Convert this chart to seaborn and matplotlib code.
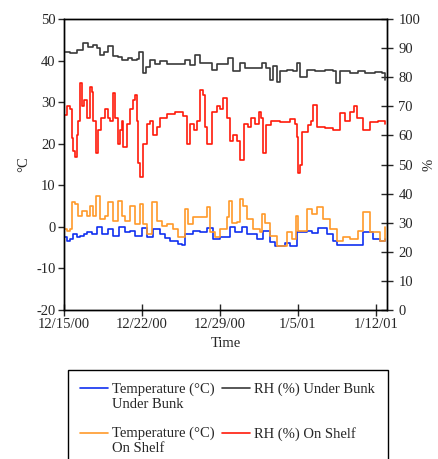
"""Temperature and relative humidity under the bunk and on the shelf, Dec 2000 - Jan 2001."""

import matplotlib
matplotlib.use("Agg")
import matplotlib.pyplot as plt
import pandas as pd
import seaborn as sns

START = pd.Timestamp("2000-12-15")

# days since 12/15/00
temp_bunk_days = [0, 0.27, 0.54, 0.81, 1.17, 1.44, 1.80, 2.06, 2.51, 2.96, 3.41, 3.95, 4.40, 4.94,
                  5.48, 5.92, 6.37, 7.00, 7.45, 7.99, 8.62, 9.07, 9.52, 10.23, 10.59, 10.86, 11.58,
                  12.21, 12.84, 13.38, 14.00, 14.27, 14.90, 15.35, 15.98, 16.43, 16.88, 17.33,
                  17.86, 18.49, 18.94, 19.57, 19.84, 20.29, 20.74, 20.92, 21.81, 22.26, 22.80,
                  23.61, 24.15, 24.51, 25.94, 26.84, 27.74, 28.37, 28.82]
temp_bunk = [-2.5, -3.3, -3.0, -1.7, -2.4, -2.2, -1.6, -1.2, -1.8, 0.0, -1.7, -0.5, -2.2, 0.0,
             -1.2, -0.9, -2.2, -0.3, -2.5, -0.5, -1.8, -2.6, -3.3, -4.1, -4.4, -1.8, -0.9,
             -1.2, -0.3, -2.9, -2.5, -2.5, 0.0, -1.2, 0.0, -1.7, -1.8, -2.9,
             -0.9, -3.6, -4.6, -4.6, -3.8, -4.6, -4.6, -1.2, -0.9, -1.4, -0.3,
             -1.7, -3.3, -4.4, -4.4, -1.2, -2.9, -3.3, -2.9]

temp_shelf_days = [0, 0.27, 0.54, 0.72, 0.99, 1.26, 1.62, 2.06, 2.33, 2.60, 2.87, 3.23, 3.68, 3.95,
                   4.40, 4.85, 5.21, 5.48, 5.92, 6.37, 6.82, 7.09, 7.45, 7.90, 8.35, 8.80, 9.25,
                   9.78, 10.23, 10.86, 11.13, 11.58, 12.66, 12.84, 13.11, 13.55, 14.00, 14.63,
                   14.81, 15.08, 15.53, 15.80, 16.07, 16.43, 16.97, 17.59, 17.77, 18.04, 18.49,
                   19.12, 19.57, 20.02, 20.47, 20.83, 21.01, 21.81, 22.26, 22.71, 23.25, 23.88,
                   24.51, 25.04, 25.67, 26.39, 26.84, 27.47, 28.37, 28.82]
temp_shelf = [-0.5, -1.0, -0.5, 6.0, 5.5, 2.6, 3.8, 2.6, 5.0, 2.6, 7.5, 1.9, 2.6, 6.0,
              1.4, 6.3, 2.6, 1.4, 5.0, 0.7, 5.5, 0.7, -1.7, 6.0, 1.4, 0.2, 0.7,
              -0.5, -2.5, 4.3, 0.7, 2.4, 2.4, 4.8, -1.2, -2.5, -0.5, 2.4,
              6.3, 1.0, 1.2, 6.7, 5.0, 2.0, -0.5, -1.2, 3.1, 1.0, -2.2,
              -4.5, -4.5, -1.2, -2.9, 2.6, -1.0, 4.3, 3.0, 4.8, 2.0, -0.5,
              -3.3, -2.5, -2.9, -1.0, 3.6, -1.2, -3.3, 0.0]

rh_bunk_days = [0, 0.54, 1.17, 1.71, 2.15, 2.60, 2.96, 3.23, 3.59, 3.95, 4.40, 4.85, 5.21, 5.75,
                6.10, 6.55, 6.73, 7.09, 7.36, 7.72, 8.17, 8.62, 9.25, 10.68, 10.86, 11.31, 11.76,
                12.21, 12.84, 13.29, 13.73, 14.18, 14.72, 15.17, 15.80, 16.25, 17.15, 17.77,
                18.13, 18.49, 18.76, 19.12, 19.39, 20.02, 20.56, 20.92, 21.19, 21.81, 22.53,
                23.43, 24.15, 24.42, 24.78, 25.67, 26.39, 27.02, 27.92, 28.55, 28.82]
rh_bunk = [88.5, 88.2, 89.3, 91.7, 90.5, 91.0, 90.0, 87.6, 88.6, 90.7, 87.3, 86.8, 86.0, 86.5,
           85.8, 86.3, 88.6, 81.4, 83.5, 85.8, 84.5, 85.5, 84.5, 84.5, 86.0, 84.2, 87.6,
           85.0, 85.0, 82.5, 84.5, 84.5, 86.6, 82.0, 85.0, 83.2, 83.2, 85.0,
           83.0, 79.0, 84.0, 78.5, 82.0, 82.5, 82.0, 85.0, 80.0, 82.5, 82.0,
           82.5, 82.0, 78.0, 82.0, 81.5, 82.3, 81.5, 81.8, 81.5, 79.0]

rh_shelf_days = [0, 0.27, 0.54, 0.72, 0.81, 0.99, 1.17, 1.26, 1.44, 1.62, 1.80, 2.06, 2.33, 2.51,
                 2.60, 2.87, 3.05, 3.32, 3.68, 3.95, 4.13, 4.40, 4.58, 4.85, 5.03, 5.21, 5.30,
                 5.66, 5.92, 6.19, 6.37, 6.55, 6.64, 6.82, 7.09, 7.45, 7.72, 7.99, 8.35, 8.62,
                 9.25, 9.96, 10.68, 11.04, 11.31, 11.67, 11.94, 12.21, 12.48, 12.66, 12.84,
                 13.29, 13.73, 14.00, 14.27, 14.63, 14.90, 15.17, 15.53, 15.80, 16.16, 16.52,
                 16.79, 17.15, 17.50, 17.68, 17.86, 18.13, 18.58, 19.39, 20.29, 20.74, 20.92,
                 21.01, 21.19, 21.37, 21.90, 22.17, 22.35, 22.71, 23.43, 24.15, 24.78, 25.22,
                 25.67, 26.03, 26.30, 26.84, 27.47, 28.19, 28.82]
rh_shelf = [67.0, 70.0, 69.0, 59.0, 54.5, 52.6, 60.0, 65.0, 78.0, 70.0, 72.0, 66.0, 76.6, 75.0,
            65.0, 54.0, 62.0, 66.0, 69.0, 66.0, 65.0, 74.5, 66.0, 57.0, 62.0, 65.0, 56.0,
            64.0, 69.0, 72.0, 74.0, 65.0, 50.5, 45.7, 57.0, 64.0, 65.0, 60.0, 63.0, 66.0,
            67.5, 68.0, 66.5, 57.0, 64.0, 62.0, 65.0, 75.5, 74.0, 63.0, 57.0,
            68.0, 70.0, 69.0, 73.0, 66.0, 58.0, 60.0, 58.0, 51.5, 64.0, 63.0,
            66.0, 64.0, 68.0, 66.0, 54.0, 63.5, 65.0, 64.5, 65.5, 64.0, 59.5,
            47.0, 50.0, 61.0, 63.5, 65.0, 70.4, 63.0, 62.5, 62.0, 67.7, 65.0,
            68.0, 70.0, 66.0, 62.0, 64.5, 65.0, 64.0]

tick_dates = ["2000-12-15", "2000-12-22", "2000-12-29", "2001-01-05", "2001-01-12"]
tick_labels = ["12/15/00", "12/22/00", "12/29/00", "1/5/01", "1/12/01"]


def to_time(days):
    return START + pd.to_timedelta(days, unit="D")


sns.set_style("ticks")
plt.rcParams["font.family"] = ["Liberation Serif", "DejaVu Serif"]
plt.rcParams["font.size"] = 10.5
plt.rcParams["axes.unicode_minus"] = False

fig = plt.figure(figsize=(4.38, 4.59), dpi=100)
ax = fig.add_axes([0.146, 0.3246, 0.738, 0.634])
ax2 = ax.twinx()

lw = 1.2
sns.lineplot(x=to_time(temp_bunk_days), y=temp_bunk, ax=ax, color="#1030f0", lw=lw,
             drawstyle="steps-post", label="Temperature (°C)\nUnder Bunk", legend=False)
sns.lineplot(x=to_time(temp_shelf_days), y=temp_shelf, ax=ax, color="#ff9a2a", lw=lw,
             drawstyle="steps-post", label="Temperature (°C)\nOn Shelf", legend=False)
sns.lineplot(x=to_time(rh_bunk_days), y=rh_bunk, ax=ax2, color="#3a3a3a", lw=lw,
             drawstyle="steps-post", label="RH (%) Under Bunk\n ", legend=False)
sns.lineplot(x=to_time(rh_shelf_days), y=rh_shelf, ax=ax2, color="#ff1a0a", lw=lw,
             drawstyle="steps-post", label="RH (%) On Shelf", legend=False)

ax.set_xlim(START, to_time(29.0))
ax.set_ylim(-20, 50)
ax.set_yticks(range(-20, 51, 10))
ax2.set_ylim(0, 100)
ax2.set_yticks(range(0, 101, 10))
ax.set_xticks(pd.to_datetime(tick_dates))
ax.set_xticklabels(tick_labels)

ax.set_xlabel("Time")
ax.set_ylabel("°C", labelpad=4)
ax2.set_ylabel("%", labelpad=2)

for a in (ax, ax2):
    for s in a.spines.values():
        s.set_linewidth(1.0)
        s.set_color("black")
ax.tick_params(axis="x", direction="inout", length=8, width=1, pad=2)
ax.tick_params(axis="y", direction="out", length=4, width=1, pad=2)
ax2.tick_params(axis="y", direction="inout", length=8, width=1, pad=4)

h1, l1 = ax.get_legend_handles_labels()
h2, l2 = ax2.get_legend_handles_labels()
leg = fig.legend(h1 + h2, l1 + l2, ncol=2, loc="upper left", bbox_to_anchor=(0.155, 0.194),
                 borderaxespad=0, fancybox=False, framealpha=1, edgecolor="black",
                 handlelength=1.9, handletextpad=0.3, columnspacing=0.5, labelspacing=1.1,
                 borderpad=0.85)
# put the handle beside the first line of the two-line labels
for line, text in zip(leg.get_lines(), leg.get_texts()):
    if "\n" in text.get_text():
        line.set_ydata([y + 6 for y in line.get_ydata()])

fig.savefig("out.png", dpi=100)
